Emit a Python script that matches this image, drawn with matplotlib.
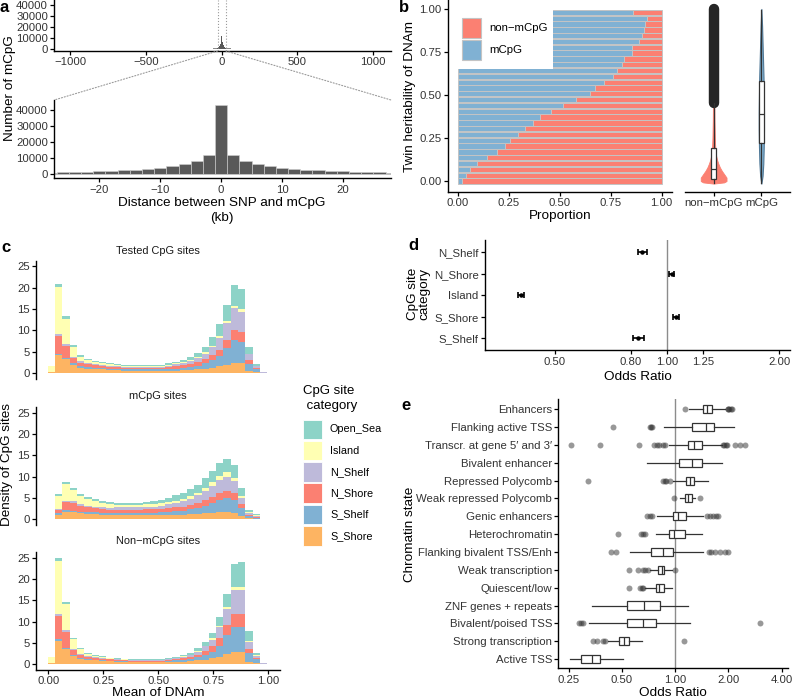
import numpy as np
import matplotlib
matplotlib.use("Agg")
import matplotlib.pyplot as plt
from matplotlib.patches import Rectangle, ConnectionPatch

plt.rcParams['font.family'] = ['Liberation Sans', 'DejaVu Sans']

# ---------------- data ----------------
# a: distance SNP - mCpG (kb), 2 kb bins
dist_kb = [-28, -26, -24, -22, -20, -18, -16, -14, -12, -10, -8, -6, -4, -2, 0,
           2, 4, 6, 8, 10, 12, 14, 16, 18, 20, 22, 24, 26, 28]
dist_count = [1050, 1250, 1450, 1650, 1870, 2070, 2500, 2900, 3500, 4150, 5200, 6200, 8300, 11800, 42800,
              12000, 8080, 6200, 5200, 4150, 3500, 2900, 2500, 2070, 1870, 1650, 1450, 1250, 1050]
# far tails (per 2 kb bin), both sides
tail_edges = [29, 60, 100, 160, 240, 340, 480, 700, 1100]
tail_count = [850, 600, 420, 280, 170, 90, 35, 8]

# b: proportion of mCpG per heritability bin (bottom to top)
herit_bins = np.linspace(0, 0.98, 30)
prop_mcpg = [0.02, 0.038, 0.06, 0.093, 0.143, 0.19, 0.23, 0.257, 0.295, 0.328,
             0.369, 0.405, 0.459, 0.516, 0.582, 0.648, 0.675, 0.716, 0.762, 0.782,
             0.808, 0.815, 0.856, 0.856, 0.89, 0.905, 0.915, 0.92, 0.93, 0.86]
# violin outlines (heritability, half width)
nonm_vy = [-0.015, -0.008, 0.0, 0.02, 0.04, 0.06, 0.08, 0.10, 0.12, 0.15, 0.19, 0.25, 0.35, 0.5, 0.7, 0.9, 1.0]
nonm_vw = [0.0, 0.22, 0.27, 0.27, 0.22, 0.17, 0.13, 0.10, 0.075, 0.05, 0.035, 0.025, 0.018, 0.013, 0.01, 0.008, 0.0]
m_vy = [-0.015, 0.03, 0.1, 0.2, 0.3, 0.4, 0.5, 0.6, 0.7, 0.8, 0.9, 1.0]
m_vw = [0.0, 0.025, 0.04, 0.05, 0.055, 0.055, 0.05, 0.045, 0.035, 0.025, 0.015, 0.0]
herit_box = {  # q1, median, q3, whisker low, whisker high
    'non−mCpG': [0.012, 0.068, 0.19, -0.012, 0.452],
    'mCpG': [0.219, 0.388, 0.583, -0.012, 0.994],
}
nonm_outlier_range = [0.455, 1.0]

# c: stacked density histograms (30 bins over mean DNAm)
categories = ['S_Shore', 'S_Shelf', 'N_Shore', 'N_Shelf', 'Island', 'Open_Sea']
cat_colors = {'Open_Sea': '#8DD3C7', 'Island': '#FFFFB3', 'N_Shelf': '#BEBADA',
              'N_Shore': '#FB8072', 'S_Shelf': '#80B1D3', 'S_Shore': '#FDB462'}
tested = {
    'S_Shore': [0.2, 4.2, 3.3, 2.0, 1.3, 1.1, 1.0, 0.9, 0.8, 0.7, 0.6, 0.6, 0.6, 0.6, 0.6, 0.6,
                0.6, 0.6, 0.7, 0.8, 0.9, 1.1, 1.3, 1.6, 2.0, 2.5, 2.3, 0.5, 0.2, 0.05],
    'S_Shelf': [0.02, 0.3, 0.3, 0.3, 0.3, 0.3, 0.3, 0.3, 0.3, 0.3, 0.3, 0.3, 0.3, 0.3, 0.3, 0.3,
                0.4, 0.5, 0.6, 0.7, 0.9, 1.2, 1.7, 2.4, 3.8, 5.2, 4.9, 1.7, 0.8, 0.1],
    'N_Shore': [0.05, 4.2, 2.8, 1.2, 0.9, 0.7, 0.6, 0.5, 0.4, 0.4, 0.35, 0.35, 0.35, 0.35, 0.35, 0.35,
                0.4, 0.5, 0.6, 0.7, 0.8, 1.0, 1.2, 1.5, 1.9, 2.5, 2.4, 0.8, 0.2, 0.03],
    'N_Shelf': [0.02, 0.4, 0.4, 0.4, 0.3, 0.3, 0.3, 0.3, 0.3, 0.3, 0.3, 0.3, 0.3, 0.3, 0.3, 0.3,
                0.4, 0.5, 0.6, 0.7, 0.9, 1.3, 1.9, 2.8, 4.0, 5.0, 4.8, 1.4, 0.4, 0.05],
    'Island': [1.4, 11.1, 5.9, 2.2, 1.1, 0.7, 0.5, 0.4, 0.3, 0.25, 0.2, 0.2, 0.2, 0.2, 0.2, 0.2,
               0.2, 0.2, 0.2, 0.2, 0.3, 0.3, 0.3, 0.4, 0.5, 0.6, 0.6, 0.2, 0.1, 0.02],
    'Open_Sea': [0.01, 0.7, 0.7, 0.5, 0.3, 0.3, 0.2, 0.2, 0.2, 0.2, 0.2, 0.2, 0.2, 0.2, 0.2, 0.2,
                 0.3, 0.4, 0.5, 0.7, 0.9, 1.3, 2.0, 2.8, 3.8, 4.9, 4.7, 1.5, 0.5, 0.05],
}
mcpg = {
    'S_Shore': [0.1, 1.1, 1.7, 1.6, 1.4, 1.3, 1.2, 1.1, 1.0, 1.0, 1.0, 1.0, 1.0, 1.0, 1.0, 1.0,
                1.0, 1.1, 1.1, 1.2, 1.3, 1.4, 1.5, 1.6, 1.6, 1.5, 0.8, 0.2, 0.1, 0.02],
    'S_Shelf': [0.0, 0.3, 0.4, 0.4, 0.4, 0.4, 0.4, 0.4, 0.4, 0.45, 0.45, 0.45, 0.45, 0.5, 0.5, 0.6,
                0.7, 0.8, 0.9, 1.1, 1.4, 1.8, 2.3, 2.9, 3.3, 3.0, 1.8, 0.6, 0.3, 0.02],
    'N_Shore': [0.0, 0.7, 1.9, 1.9, 1.4, 1.1, 1.0, 0.9, 0.8, 0.8, 0.8, 0.8, 0.8, 0.8, 0.8, 0.8,
                0.9, 0.9, 1.0, 1.1, 1.2, 1.3, 1.5, 1.6, 1.8, 1.7, 0.9, 0.3, 0.2, 0.02],
    'N_Shelf': [0.0, 0.2, 0.4, 0.4, 0.4, 0.4, 0.4, 0.4, 0.5, 0.55, 0.55, 0.55, 0.55, 0.6, 0.7, 0.8,
                0.9, 1.0, 1.2, 1.4, 1.7, 2.2, 2.6, 3.2, 3.3, 2.7, 1.5, 0.4, 0.2, 0.02],
    'Island': [0.05, 3.2, 3.9, 2.6, 1.9, 1.6, 1.3, 1.0, 0.8, 0.6, 0.6, 0.6, 0.6, 0.6, 0.6, 0.6,
               0.6, 0.6, 0.6, 0.6, 0.6, 0.7, 0.8, 0.8, 1.0, 0.7, 0.5, 0.2, 0.1, 0.01],
    'Open_Sea': [0.0, 0.4, 0.5, 0.4, 0.4, 0.4, 0.4, 0.5, 0.5, 0.5, 0.5, 0.5, 0.5, 0.6, 0.7, 0.8,
                 0.9, 1.2, 1.3, 1.6, 1.8, 2.2, 2.7, 3.0, 3.2, 3.2, 1.9, 0.4, 0.4, 0.01],
}
non_mcpg = {
    'S_Shore': [0.3, 5.5, 3.5, 2.0, 1.3, 1.0, 0.9, 0.8, 0.7, 0.6, 0.55, 0.5, 0.5, 0.5, 0.5, 0.5,
                0.55, 0.6, 0.65, 0.75, 0.9, 1.1, 1.4, 1.8, 2.4, 2.9, 2.9, 0.6, 0.2, 0.03],
    'S_Shelf': [0.02, 0.4, 0.3, 0.2, 0.2, 0.2, 0.2, 0.15, 0.15, 0.15, 0.15, 0.15, 0.15, 0.15, 0.15, 0.15,
                0.2, 0.3, 0.4, 0.55, 0.8, 1.1, 1.6, 2.6, 4.4, 5.8, 5.9, 2.0, 1.0, 0.1],
    'N_Shore': [0.05, 5.4, 3.8, 1.1, 0.7, 0.5, 0.4, 0.35, 0.3, 0.25, 0.22, 0.2, 0.2, 0.2, 0.2, 0.2,
                0.25, 0.3, 0.35, 0.45, 0.6, 0.9, 1.2, 1.7, 2.4, 3.0, 3.0, 1.0, 0.3, 0.04],
    'N_Shelf': [0.02, 0.5, 0.4, 0.3, 0.2, 0.2, 0.15, 0.15, 0.15, 0.15, 0.1, 0.1, 0.1, 0.1, 0.1, 0.1,
                0.2, 0.25, 0.35, 0.45, 0.7, 1.1, 1.6, 2.6, 3.8, 5.8, 5.7, 1.6, 0.5, 0.06],
    'Island': [1.4, 12.5, 6.1, 2.3, 1.1, 0.6, 0.4, 0.3, 0.2, 0.15, 0.13, 0.1, 0.1, 0.1, 0.1, 0.1,
               0.1, 0.1, 0.1, 0.1, 0.15, 0.2, 0.3, 0.3, 0.5, 0.6, 0.6, 0.2, 0.1, 0.02],
    'Open_Sea': [0.01, 0.7, 0.6, 0.35, 0.25, 0.2, 0.15, 0.15, 0.1, 0.1, 0.1, 0.1, 0.1, 0.1, 0.1, 0.1,
                 0.1, 0.15, 0.25, 0.4, 0.6, 0.8, 1.2, 2.0, 3.1, 5.4, 6.0, 2.3, 0.6, 0.05],
}
bin_start, bin_w = -0.003, 0.0333

# d: odds ratio per CpG site category (bottom to top)
d_cats = ['S_Shelf', 'S_Shore', 'Island', 'N_Shore', 'N_Shelf']
d_or = [0.839, 1.059, 0.406, 1.031, 0.86]
d_lo = [0.813, 1.04, 0.399, 1.014, 0.834]
d_hi = [0.869, 1.079, 0.414, 1.048, 0.887]

# e: odds ratio per chromatin state (top to bottom)
states = ['Enhancers', 'Flanking active TSS', 'Transcr. at gene 5′ and 3′', 'Bivalent enhancer',
          'Repressed Polycomb', 'Weak repressed Polycomb', 'Genic enhancers', 'Heterochromatin',
          'Flanking bivalent TSS/Enh', 'Weak transcription', 'Quiescent/low', 'ZNF genes + repeats',
          'Bivalent/poised TSS', 'Strong transcription', 'Active TSS']
e_q1 = [1.434, 1.242, 1.19, 1.049, 1.149, 1.139, 0.978, 0.921, 0.728, 0.798, 0.777, 0.533, 0.537, 0.485, 0.294]
e_med = [1.524, 1.498, 1.281, 1.242, 1.216, 1.18, 1.044, 0.987, 0.851, 0.84, 0.815, 0.668, 0.662, 0.515, 0.34]
e_q3 = [1.626, 1.669, 1.428, 1.415, 1.286, 1.242, 1.149, 1.144, 0.978, 0.87, 0.87, 0.822, 0.777, 0.547, 0.376]
e_wlo = [1.2, 0.866, 0.929, 0.691, 0.98, 1.067, 0.787, 0.777, 0.556, 0.722, 0.677, 0.338, 0.326, 0.42, 0.255]
e_whi = [1.92, 2.157, 1.837, 1.853, 1.53, 1.3, 1.446, 1.428, 1.446, 0.957, 0.957, 1.19, 1.216, 0.648, 0.506]
e_out = [
    [1.139, 1.98, 2.0, 2.03, 2.06, 2.1],
    [0.448, 0.72, 0.73, 0.74],
    [0.258, 0.377, 0.628, 0.764, 0.79, 0.816, 0.85, 0.878, 1.876, 1.9, 1.94, 1.96, 2.18, 2.33, 2.5],
    [],
    [0.32, 0.859, 0.875, 0.889, 0.937],
    [0.987, 1.385],
    [0.69, 0.72, 0.74, 1.52, 1.58, 1.63, 1.7, 1.76],
    [0.478, 0.64, 0.66, 0.68],
    [0.432, 0.462, 1.56, 1.6, 1.68, 1.8, 1.92, 2.0],
    [0.551, 0.62, 0.66, 0.68, 0.70, 1.0],
    [0.551, 0.63, 0.65, 0.66],
    [],
    [0.288, 0.295, 0.3, 3.03],
    [0.345, 0.36, 0.39, 0.4, 1.124],
    [],
]

# ---------------- figure ----------------
W, H = 799, 700
fig = plt.figure(figsize=(W / 100, H / 100), dpi=100)
DARK = '#595959'
TICK = '#333333'
SALMON, BLUE = '#FB8072', '#80B1D3'


def add_ax(l, t, r, b):
    return fig.add_axes([l / W, 1 - b / H, (r - l) / W, (b - t) / H])


def ftext(x, y, s, **kw):
    fig.text(x / W, 1 - y / H, s, **kw)


def classic(ax, left=True, bottom=True):
    for s in ['top', 'right']:
        ax.spines[s].set_visible(False)
    ax.spines['left'].set_visible(left)
    ax.spines['bottom'].set_visible(bottom)
    for s in ['left', 'bottom']:
        ax.spines[s].set_linewidth(1.0)
    ax.tick_params(length=3, width=0.9, labelsize=8.2, labelcolor=TICK, pad=1.5)
    ax.set_facecolor('none')


# ---- a ----
axt = add_ax(54.3, 0, 391, 51)
classic(axt)
axt.bar(dist_kb, dist_count, width=2, color=DARK, lw=0)
for lo, hi, c in zip(tail_edges[:-1], tail_edges[1:], tail_count):
    axt.bar([lo, -hi], [c, c], width=hi - lo, align='edge', color='#8a8a8a', lw=0)
axt.axvline(-27.5, color='#9a9a9a', ls=':', lw=0.8)
axt.axvline(27.5, color='#9a9a9a', ls=':', lw=0.8)
axt.set_xlim(-1107, 1119)
axt.set_ylim(-1535, 44500)
axt.set_xticks([-1000, -500, 0, 500, 1000])
axt.set_yticks([0, 10000, 20000, 30000, 40000])

axb = add_ax(54.3, 100, 391, 178.3)
classic(axb)
axb.bar(dist_kb, dist_count, width=2, color=DARK, edgecolor='#d0d0d0', lw=0.4)
axb.set_xlim(-27.4, 27.9)
axb.set_ylim(-2490, 46220)
axb.set_xticks([-20, -10, 0, 10, 20])
axb.set_yticks([0, 10000, 20000, 30000, 40000])

for xa, xb in [(-27.5, axb.get_xlim()[0]), (27.5, axb.get_xlim()[1])]:
    con = ConnectionPatch(xyA=(xa, axt.get_ylim()[0]), coordsA=axt.transData,
                          xyB=(xb, axb.get_ylim()[1]), coordsB=axb.transData,
                          ls=':', color='#9a9a9a', lw=0.8)
    fig.add_artist(con)

ftext(10, 88, 'Number of mCpG', rotation=90, ha='center', va='center', fontsize=9.7)
ftext(222, 203, 'Distance between SNP and mCpG', ha='center', va='center', fontsize=9.7)
ftext(222, 218, '(kb)', ha='center', va='center', fontsize=9.7)

# ---- b ----
axbl = add_ax(447.7, 0, 671.7, 191.7)
classic(axbl)
prop_m = np.array(prop_mcpg)
axbl.barh(herit_bins, prop_m, height=0.031, color=BLUE, edgecolor='#c4c4c4', lw=0.7)
axbl.barh(herit_bins, 1 - prop_m, left=prop_m, height=0.031, color=SALMON, edgecolor='#c4c4c4', lw=0.7)
axbl.set_xlim(-0.05, 1.05)
axbl.set_ylim(-0.062, 1.052)
axbl.set_xticks([0, 0.25, 0.5, 0.75, 1.0])
axbl.set_xticklabels(['0.00', '0.25', '0.50', '0.75', '1.00'])
axbl.set_yticks([0, 0.25, 0.5, 0.75, 1.0])
axbl.set_yticklabels(['0.00', '0.25', '0.50', '0.75', '1.00'])
# legend box
axbl.add_patch(Rectangle((-0.002, 0.651), 0.468, 0.36, facecolor='white', edgecolor='none', zorder=5))
axbl.add_patch(Rectangle((0.018, 0.833), 0.095, 0.113, facecolor=SALMON, edgecolor='#c4c4c4', lw=0.8, zorder=6))
axbl.add_patch(Rectangle((0.018, 0.705), 0.095, 0.113, facecolor=BLUE, edgecolor='#c4c4c4', lw=0.8, zorder=6))
axbl.text(0.152, 0.889, 'non−mCpG', fontsize=8.2, va='center', zorder=7)
axbl.text(0.152, 0.762, 'mCpG', fontsize=8.2, va='center', zorder=7)

axbr = add_ax(685, 0, 790, 191.7)
classic(axbr, left=False)
axbr.set_xlim(0.4, 2.6)
axbr.set_ylim(-0.062, 1.052)
axbr.set_yticks([])
axbr.fill_betweenx(nonm_vy, 1 - np.array(nonm_vw), 1 + np.array(nonm_vw), color=SALMON, lw=0.6)
axbr.fill_betweenx(m_vy, 2 - np.array(m_vw), 2 + np.array(m_vw), facecolor=BLUE, edgecolor='#4f7896', lw=0.8)
axbr.plot([1, 1], nonm_outlier_range, color='#262626', lw=7.5, solid_capstyle='round', zorder=2)
bstats = []
for name, (q1, med, q3, lo, hi) in herit_box.items():
    bstats.append(dict(q1=q1, med=med, q3=q3, whislo=lo, whishi=hi, fliers=[], label=name))
axbr.bxp(bstats, positions=[1, 2], widths=0.115, patch_artist=True, showfliers=False, showcaps=False,
         boxprops=dict(facecolor='white', edgecolor='#333333', lw=0.9),
         whiskerprops=dict(color='#333333', lw=0.9),
         medianprops=dict(color='#333333', lw=0.9), manage_ticks=False, zorder=3)
axbr.set_xticks([1, 2])
axbr.set_xticklabels(list(herit_box.keys()))

ftext(410, 96, 'Twin heritability of DNAm', rotation=90, ha='center', va='center', fontsize=9.7)
ftext(560, 216, 'Proportion', ha='center', va='center', fontsize=9.7)

# ---- c ----
edges = bin_start + np.arange(30) * bin_w
c_panels = [('Tested CpG sites', tested, 260.7, 379, 250.7),
            ('mCpG sites', mcpg, 407.2, 525, 395.7),
            ('Non−mCpG sites', non_mcpg, 552.4, 670, 541)]
for i, (title, dens, top, bot, ty) in enumerate(c_panels):
    ax = add_ax(36, top, 280, bot)
    last = i == len(c_panels) - 1
    classic(ax, bottom=last)
    cum = np.zeros(30)
    for cat in categories:
        vals = np.array(dens[cat])
        ax.bar(edges, vals, width=bin_w, bottom=cum, align='edge', color=cat_colors[cat], lw=0)
        cum += vals
    ax.set_xlim(-0.056, 1.053)
    ax.set_ylim(-1.33, 26.25)
    ax.set_yticks([0, 5, 10, 15, 20, 25])
    if last:
        ax.set_xticks([0, 0.25, 0.5, 0.75, 1.0])
        ax.set_xticklabels(['0.00', '0.25', '0.50', '0.75', '1.00'])
    else:
        ax.set_xticks([])
    ftext(158, ty, title, ha='center', va='center', fontsize=7.9, color='#1a1a1a')

ftext(7, 464, 'Density of CpG sites', rotation=90, ha='center', va='center', fontsize=9.7)
ftext(158, 693, 'Mean of DNAm', ha='center', va='center', fontsize=9.7)

# legend c
ftext(302.7, 391, 'CpG site', ha='left', va='center', fontsize=9.5)
ftext(302.7, 406, ' category', ha='left', va='center', fontsize=9.5)
for k, cat in enumerate(categories[::-1]):
    top = 419.5 + k * 21.3
    fig.add_artist(Rectangle((302.7 / W, 1 - (top + 19.6) / H), 19.6 / W, 19.6 / H,
                             transform=fig.transFigure, facecolor=cat_colors[cat], edgecolor='white', lw=0.6))
    ftext(330, top + 9.8, cat, ha='left', va='center', fontsize=7.8)

# ---- d ----
axd = add_ax(485, 240, 790, 350.5)
classic(axd)
axd.set_xscale('log', base=2)
axd.axvline(1.0, color='#8c8c8c', lw=1.0, zorder=1)
ypos = np.arange(1, len(d_cats) + 1)
axd.errorbar(d_or, ypos, xerr=[np.array(d_or) - np.array(d_lo), np.array(d_hi) - np.array(d_or)],
             fmt='o', ms=2.2, color='black', ecolor='black', elinewidth=1.2, capsize=2.2, capthick=1.2, zorder=3)
axd.set_xlim(0.325, 2.14)
axd.set_ylim(0.43, 5.57)
axd.set_xticks([0.5, 0.8, 1.0, 1.25, 2.0])
axd.set_xticklabels(['0.50', '0.80', '1.00', '1.25', '2.00'])
axd.xaxis.set_minor_locator(matplotlib.ticker.NullLocator())
axd.set_yticks(ypos)
axd.set_yticklabels(d_cats)
ftext(419, 294, 'CpG site\ncategory', rotation=90, ha='center', va='center', fontsize=9.7, linespacing=0.95)
ftext(638, 377, 'Odds Ratio', ha='center', va='center', fontsize=9.7)

# ---- e ----
axe = add_ax(558.3, 399.3, 788.3, 668.3)
classic(axe)
axe.set_xscale('log', base=2)
axe.axvline(1.0, color='#8c8c8c', lw=1.0, zorder=0.5)
epos = np.arange(len(states), 0, -1)
estats = []
for k in range(len(states)):
    estats.append(dict(q1=e_q1[k], med=e_med[k], q3=e_q3[k], whislo=e_wlo[k], whishi=e_whi[k],
                       fliers=e_out[k], label=states[k]))
axe.bxp(estats, positions=epos, widths=0.45, orientation='horizontal', patch_artist=True,
        showcaps=False, manage_ticks=False,
        boxprops=dict(facecolor='white', edgecolor='#333333', lw=0.9),
        whiskerprops=dict(color='#333333', lw=0.9),
        medianprops=dict(color='#333333', lw=0.9),
        flierprops=dict(marker='o', markerfacecolor='#333333', markeredgecolor='none', alpha=0.5, markersize=4.3))
axe.set_xlim(0.2187, 4.37)
axe.set_ylim(0.48, 15.56)
axe.set_xticks([0.25, 0.5, 1.0, 2.0, 4.0])
axe.set_xticklabels(['0.25', '0.50', '1.00', '2.00', '4.00'])
axe.xaxis.set_minor_locator(matplotlib.ticker.NullLocator())
axe.set_yticks(epos)
axe.set_yticklabels(states)
ftext(410, 534, 'Chromatin state', rotation=90, ha='center', va='center', fontsize=9.7)
ftext(673, 693, 'Odds Ratio', ha='center', va='center', fontsize=9.7)

# panel letters
for letter, x, y in [('a', 0, 8), ('b', 399, 8), ('c', 1, 247), ('d', 408, 245), ('e', 401, 405)]:
    ftext(x, y, letter, ha='left', va='center', fontsize=12, fontweight='bold')

fig.savefig('out.png', dpi=100)
